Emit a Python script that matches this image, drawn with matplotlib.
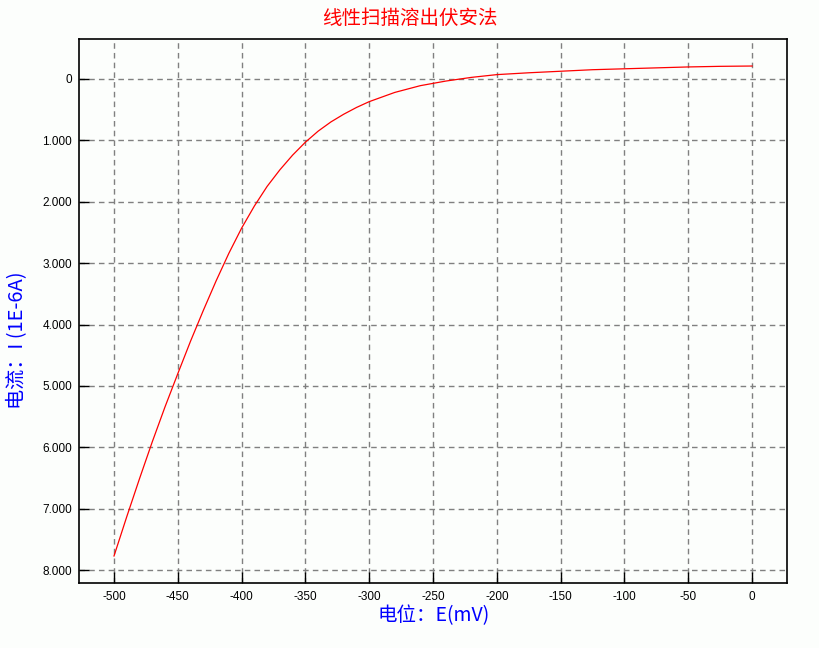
import matplotlib

matplotlib.use("Agg")
import matplotlib.pyplot as plt

plt.rcParams["font.family"] = ["Liberation Sans", "Noto Sans CJK SC", "DejaVu Sans"]

# potential (mV) and current (1E-6 A)
potential = [-500, -490, -480, -470, -460, -450, -440, -430, -420, -410,
             -400, -390, -380, -370, -360, -350, -340, -330, -320, -310,
             -300, -280, -260, -240, -220, -200, -175, -150, -125, -100,
             -75, -50, -25, 0]
current = [7.77, 7.13, 6.51, 5.91, 5.34, 4.80, 4.27, 3.77, 3.29, 2.84,
           2.43, 2.07, 1.75, 1.48, 1.24, 1.03, 0.85, 0.70, 0.575, 0.465,
           0.37, 0.22, 0.11, 0.035, -0.025, -0.07, -0.10, -0.125, -0.15, -0.165,
           -0.18, -0.195, -0.205, -0.21]

x_ticks = [-500, -450, -400, -350, -300, -250, -200, -150, -100, -50, 0]
y_ticks = [0, 1, 2, 3, 4, 5, 6, 7, 8]
y_tick_labels = ["0", "1.000", "2.000", "3.000", "4.000", "5.000", "6.000", "7.000", "8.000"]

BG = "#fcfefc"
CJK = ["Noto Sans CJK SC", "DejaVu Sans"]

fig = plt.figure(figsize=(8.19, 6.48), dpi=100, facecolor=BG)
ax = fig.add_axes([0.0965, 0.1003, 0.8645, 0.8395], facecolor=BG)

ax.plot(potential, current, color="#ff0000", linewidth=0.9, zorder=3)

ax.set_xlim(-527.4, 27.4)
ax.set_ylim(8.21, -0.65)
ax.set_xticks(x_ticks)
ax.set_xticklabels([str(v) for v in x_ticks])
ax.set_yticks(y_ticks)
ax.set_yticklabels(y_tick_labels)
ax.tick_params(direction="in", width=1, labelsize=8.5)
ax.tick_params(axis="x", length=8, pad=6)
ax.tick_params(axis="y", length=7, pad=5)

ax.grid(color="#808080", linestyle=(0, (4, 3)), linewidth=1)
ax.set_axisbelow(True)
for spine in ax.spines.values():
    spine.set_linewidth(1.2)

fig.text(0.5, 0.972, "线性扫描溶出伏安法", color="#ff0000", fontsize=14,
         ha="center", va="center", family=CJK)
fig.text(0.529, 0.05, "电位：E(mV)", color="#0000ff", fontsize=14,
         ha="center", va="center", family=CJK)
fig.text(0.021, 0.475, "电流：I (1E-6A)", color="#0000ff", fontsize=14.5,
         ha="center", va="center", rotation=90, family=CJK)

fig.savefig("out.png", dpi=100, facecolor=BG)
